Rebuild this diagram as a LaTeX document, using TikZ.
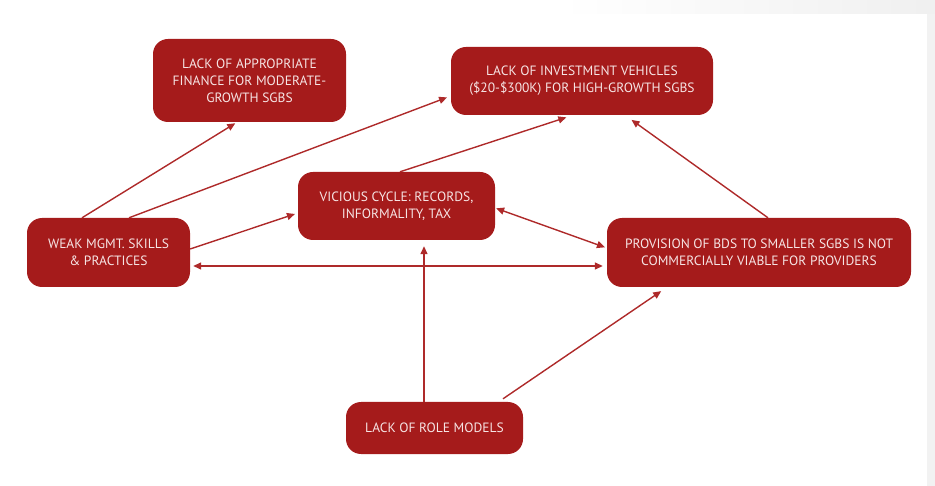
\documentclass[tikz,border=0pt]{standalone}
\usepackage{fontspec}
\setmainfont{PT Sans}
\usetikzlibrary{arrows.meta}
\usepackage{xcolor}
\definecolor{boxred}{HTML}{A51B1B}
\definecolor{linered}{HTML}{AE2A2A}
\definecolor{boxtext}{HTML}{F6E4E4}

\begin{document}
\begin{tikzpicture}[x=1pt, y=-1pt,
    box/.style={rectangle, rounded corners=15pt, fill=boxred, text=boxtext, align=center,
        inner sep=0pt, font=\fontsize{13.5}{17}\selectfont},
    link/.style={draw=linered, line width=1.4pt, -{Triangle[length=8pt,width=7pt]}},
    both/.style={link, {Triangle[length=8pt,width=7pt]}-{Triangle[length=8pt,width=7pt]}}]
    \useasboundingbox (0,0) rectangle (935,486);
    % page edge
    \shade[left color=white, right color=gray!12] (560,0) rectangle (935,14);
    \fill[gray!10] (927,14) rectangle (935,486);

    \node[box, minimum width=193pt, minimum height=83pt] (fin) at (249.5,80.5)
        {LACK OF APPROPRIATE\\FINANCE FOR MODERATE-\\GROWTH SGBS};
    \node[box, minimum width=262pt, minimum height=68pt] (inv) at (582,81)
        {LACK OF INVESTMENT VEHICLES\\(\$20-\$300K) FOR HIGH-GROWTH SGBS};
    \node[box, minimum width=197pt, minimum height=68pt] (cyc) at (396.5,206)
        {VICIOUS CYCLE: RECORDS,\\INFORMALITY, TAX};
    \node[box, minimum width=163pt, minimum height=69pt] (mgmt) at (108.5,252.5)
        {WEAK MGMT. SKILLS\\\& PRACTICES};
    \node[box, minimum width=304pt, minimum height=69pt] (bds) at (759,252.5)
        {PROVISION OF BDS TO SMALLER SGBS IS NOT\\COMMERCIALLY VIABLE FOR PROVIDERS};
    \node[box, minimum width=177pt, minimum height=52pt] (role) at (434.5,428)
        {LACK OF ROLE MODELS};

    \draw[link, shorten >=2pt] ([xshift=-26.5pt]mgmt.north) -- ([xshift=-12.5pt]fin.south);
    \draw[link, shorten >=4pt] ([xshift=20.5pt]mgmt.north) -- ([yshift=-15pt]inv.west);
    \draw[link, shorten >=7pt] ([xshift=3.5pt]cyc.north) -- ([xshift=-9pt]inv.south);
    \draw[link, shorten >=8pt] ([xshift=9pt]bds.north) -- ([xshift=43pt]inv.south);
    \draw[link, shorten >=3pt] ([yshift=3.5pt]mgmt.east) -- ([yshift=-7pt]cyc.west);
    \draw[both, shorten <=3pt, shorten >=4pt] ([yshift=-13.5pt]mgmt.east) -- ([yshift=-13.5pt]bds.west);
    \draw[both, shorten <=1pt, shorten >=2pt] ([yshift=-2pt]cyc.east) -- ([yshift=4.5pt]bds.west);
    \draw[link, shorten >=6pt] ([xshift=-10.5pt]role.north) -- ([xshift=27.5pt]cyc.south);
    \draw[link, shorten >=7pt] ([xshift=68.5pt,yshift=3pt]role.north) -- ([xshift=-92pt]bds.south);
\end{tikzpicture}
\end{document}
